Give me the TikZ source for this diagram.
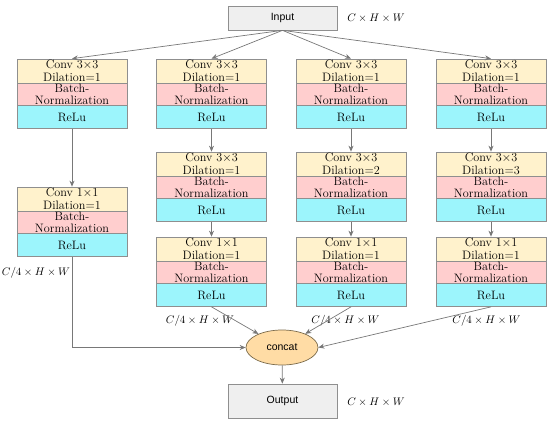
\documentclass[tikz,border=0pt]{standalone}
\usepackage{fontspec}
\usetikzlibrary{arrows,arrows.meta}
\usetikzlibrary{shapes.geometric}
\usepackage{xcolor}
\usepackage{amsmath}
\newfontfamily\arialfont{Liberation Sans}
\definecolor{convfill}{HTML}{FFF2CC}
\definecolor{bnfill}{HTML}{FFCECE}
\definecolor{relufill}{HTML}{9CF5FC}
\definecolor{boxgray}{HTML}{8F8F8F}
\definecolor{iofill}{HTML}{EFEFEF}
\definecolor{linegray}{HTML}{787878}
\definecolor{catfill}{HTML}{FFDCA5}
\definecolor{catdraw}{HTML}{7A6A4A}

\begin{document}
\begin{tikzpicture}[x=1pt, y=-1pt,
  layer/.style={draw=boxgray, line width=.7pt, minimum width=110pt, inner sep=0pt, align=center, font=\fontsize{12.2}{12.5}\selectfont},
  conv/.style={layer, fill=convfill, minimum height=24pt},
  bn/.style={layer, fill=bnfill, minimum height=23pt},
  relu/.style={layer, fill=relufill, minimum height=23pt},
  io/.style={draw=boxgray, line width=.7pt, fill=iofill, minimum width=109pt, inner sep=0pt, font=\arialfont\fontsize{10.5}{12}\selectfont},
  arr/.style={draw=linegray, line width=.7pt, -{Stealth[length=6pt,width=5pt]}},
  dim/.style={font=\fontsize{11.2}{12}\selectfont, inner sep=0pt}]
\useasboundingbox (0,0) rectangle (550,424);
\node[io, minimum height=24pt] (in) at (282.5,18) {Input};
\node[dim] (dimin) at (376,18) {$C\times H\times W$};
\foreach \nm/\x/\y/\ker/\dil in {a1/72/59/3/1, a2/72/187/1/1,
  b1/211.5/59/3/1, b2/211.5/152/3/1, b3/211.5/237/1/1,
  c1/351/59/3/1, c2/351/152/3/2, c3/351/237/1/1,
  d1/491/59/3/1, d2/491/152/3/3, d3/491/237/1/1} {
 \node[conv] (\nm c) at (\x,\y+12) {Conv \ker$\times$\ker\\Dilation=\dil};
 \node[bn] (\nm b) at (\x,\y+35.5) {Batch-\\Normalization};
 \node[relu] (\nm r) at (\x,\y+58) {ReLu};
}
\node[ellipse, draw=catdraw, line width=.7pt, fill=catfill, minimum width=72pt, minimum height=35pt, inner sep=0pt, font=\arialfont\fontsize{10.5}{12}\selectfont] (cat) at (282,347.5) {concat};
\node[io, minimum height=34pt] (out) at (282.5,401) {Output};
\node[dim] (dimout) at (376,402) {$C\times H\times W$};
\node[dim] (dima) at (36,273) {$C/4\times H\times W$};
\node[dim] (dimb) at (200,321) {$C/4\times H\times W$};
\node[dim] (dimc) at (345.5,321) {$C/4\times H\times W$};
\node[dim] (dimd) at (486.5,321) {$C/4\times H\times W$};
\foreach \nm in {a1,b1,c1,d1} {
 \draw[arr] (in.south) -- (\nm c.north);
}
\draw[arr] (a1r) -- (a2c);
\foreach \nm/\nx in {b1/b2, b2/b3, c1/c2, c2/c3, d1/d2, d2/d3} {
 \draw[arr] (\nm r) -- (\nx c);
}
\draw[arr] (a2r) |- (cat);
\draw[arr] (b3r.south) -- (cat);
\draw[arr] (c3r.south) -- (cat);
\draw[arr] (d3r.south) -- (cat.east);
\draw[arr] (cat) -- (out);
\end{tikzpicture}
\end{document}
